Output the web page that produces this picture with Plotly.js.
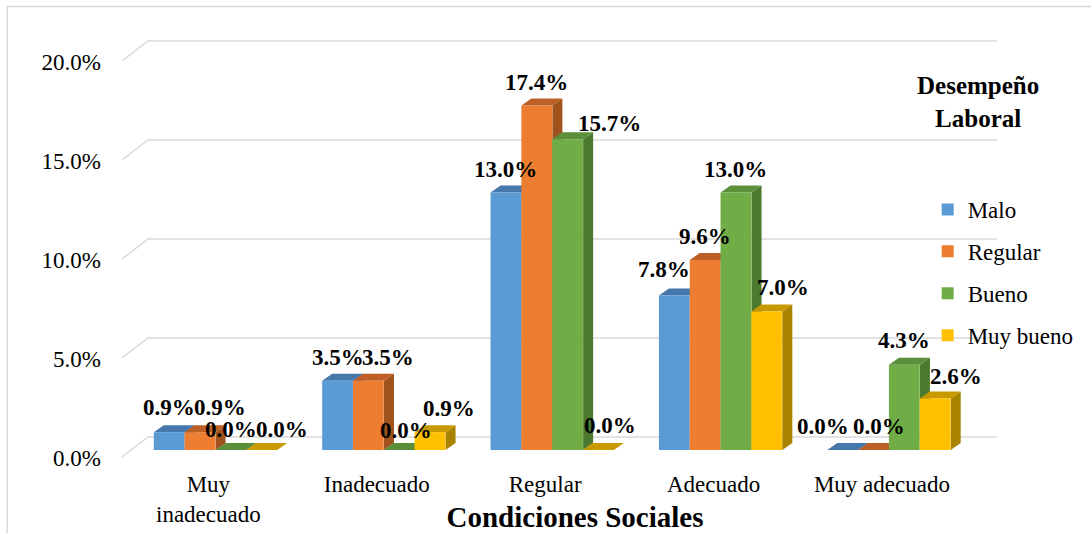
<!DOCTYPE html>
<html><head><meta charset="utf-8">
<script src="https://cdn.plot.ly/plotly-3.0.1.min.js"></script>
<style>html,body{margin:0;padding:0;background:#fff;}#chart{width:1091px;height:533px;}</style>
</head><body><div id="chart"></div>
<script>
// ---- data ----
const categories = ["Muy<br>inadecuado", "Inadecuado", "Regular", "Adecuado", "Muy adecuado"];
const seriesNames = ["Malo", "Regular", "Bueno", "Muy bueno"];
const malo = [0.9, 3.5, 13.0, 7.8, 0.0];
const regular = [0.9, 3.5, 17.4, 9.6, 0.0];
const bueno = [0.0, 0.0, 15.7, 13.0, 4.3];
const muyBueno = [0.0, 0.9, 0.0, 7.0, 2.6];
const yTickVals = [0, 5, 10, 15, 20];
const yTickText = ["0.0%", "5.0%", "10.0%", "15.0%", "20.0%"];
const xTitle = "Condiciones Sociales";
const legendTitle = "Desempeño<br>Laboral";

// ---- styles / geometry ----
const seriesValues = [malo, regular, bueno, muyBueno];
const frontColors = ["#5B9BD5", "#ED7D31", "#70AD47", "#FFC000"];
const topColors = ["#4678AC", "#BE6026", "#5B8F39", "#C99A00"];
const sideColors = ["#3E6D98", "#A0531C", "#4B7A2E", "#A88300"];
// manual label offsets (px) as placed in the original
const labelDX = [[0, 0, 0, -10, -20], [20, 20, 0, 0, 5], [0, 7, 42, 0, 0], [20, 19, 12, 16, 21]];
const labelDY = [[25, 23, 23, 26, 24], [25, 23, 23, 23, 24], [21, 20, 15.5, 23, 24], [21, 23.5, 25, 24, 22]];

const W = 1091, H = 533;
const plotL = 122, plotR = 1034, plotT = 34, plotB = 462;
const zeroPx = 450, pxPerY = 19.8;
const pxPerX = 169.5, firstCenterPx = 216;
const yLo = -(plotB - zeroPx) / pxPerY, yHi = (zeroPx - plotT) / pxPerY;
const xLo = -(firstCenterPx - plotL) / pxPerX, xHi = xLo + (plotR - plotL) / pxPerX;
const groupW = 124 / pxPerX, barW = groupW / 4, barWpx = barW * pxPerX;
const dX = 10, dY = 7;            // bar depth
const gridEnd = 997 - plotL;       // back gridline end (px from plot left)
const FONT = "Liberation Serif, Times New Roman, serif";
const px2paperX = p => (p - plotL) / (plotR - plotL);
const px2paperY = p => (plotB - p) / (plotB - plotT);

const traces = seriesValues.map((vals, s) => ({
  type: "bar",
  name: seriesNames[s],
  x: categories.map((c, j) => j),
  y: vals,
  marker: {color: frontColors[s], line: {width: 0}},
  legendgroup: "g" + s,
  hoverinfo: "skip"
}));

const shapes = [];
// frame border
shapes.push({type: "rect", xref: "paper", yref: "paper", layer: "below",
  x0: px2paperX(6.5), x1: px2paperX(1200), y0: px2paperY(600), y1: px2paperY(6.5),
  line: {color: "#D9D9D9", width: 1.5}, fillcolor: "rgba(0,0,0,0)"});
// 3D gridlines (front floor edge -> back wall)
yTickVals.forEach(v => {
  shapes.push({type: "path", layer: "below", xref: "paper", yref: "y",
    xsizemode: "pixel", ysizemode: "pixel", xanchor: 0, yanchor: v,
    path: `M0,-7 L26,13 L${gridEnd},13`,
    line: {color: "#D9D9D9", width: 1.5}});
});
// side faces
seriesValues.forEach((vals, s) => vals.forEach((v, j) => {
  const left = j - groupW / 2 + s * barW;
  const h = v * pxPerY;
  if (h > 0) shapes.push({type: "path", layer: "below", xref: "x", yref: "y",
    xsizemode: "pixel", ysizemode: "pixel", xanchor: left, yanchor: v,
    path: `M${barWpx},0 L${barWpx + dX},${dY} L${barWpx + dX},${dY - h} L${barWpx},${-h} Z`,
    fillcolor: sideColors[s], line: {width: 0}});
}));
// top faces
seriesValues.forEach((vals, s) => vals.forEach((v, j) => {
  const left = j - groupW / 2 + s * barW;
  shapes.push({type: "path", layer: "below", xref: "x", yref: "y",
    xsizemode: "pixel", ysizemode: "pixel", xanchor: left, yanchor: v,
    path: `M0,0 L${barWpx},0 L${barWpx + dX},${dY} L${dX},${dY} Z`,
    fillcolor: topColors[s], line: {width: 0}});
}));

const annotations = [];
seriesValues.forEach((vals, s) => vals.forEach((v, j) => {
  annotations.push({
    x: j - groupW / 2 + (s + 0.5) * barW, y: v, xref: "x", yref: "y",
    text: v.toFixed(1) + "%", showarrow: false,
    xanchor: "center", yanchor: "middle",
    xshift: labelDX[s][j], yshift: labelDY[s][j],
    font: {family: FONT, size: 23, color: "#000", weight: "bold"}
  });
}));
annotations.push({
  xref: "paper", yref: "paper", x: px2paperX(984), y: px2paperY(102),
  xanchor: "center", yanchor: "middle", showarrow: false,
  text: legendTitle, font: {family: FONT, size: 25, color: "#000", weight: "bold"}
});

const layout = {
  width: W, height: H,
  margin: {l: plotL, r: W - plotR, t: plotT, b: H - plotB, pad: 0},
  paper_bgcolor: "#fff", plot_bgcolor: "rgba(0,0,0,0)",
  font: {family: FONT, size: 23, color: "#000"},
  barmode: "group", bargap: 1 - groupW, bargroupgap: 0,
  showlegend: true,
  legend: {x: px2paperX(933), y: px2paperY(188), xanchor: "left", yanchor: "top",
    traceorder: "grouped", tracegroupgap: 9,
    font: {family: FONT, size: 23, color: "#000"}, bgcolor: "rgba(0,0,0,0)"},
  xaxis: {type: "linear", range: [xLo, xHi], tickvals: categories.map((c, j) => j), ticktext: categories,
    showgrid: false, zeroline: false, showline: false, ticks: "", automargin: false,
    ticklabelshift: -7, ticklabelstandoff: 6,
    tickfont: {family: FONT, size: 23, color: "#000"},
    title: {text: xTitle, font: {family: FONT, size: 29, color: "#000", weight: "bold"}, standoff: 0},
    fixedrange: true},
  yaxis: {range: [yLo, yHi], tickvals: yTickVals, ticktext: yTickText,
    showgrid: false, zeroline: false, showline: false, ticks: "", automargin: false,
    ticklabelshift: 8, ticklabelstandoff: 20,
    tickfont: {family: FONT, size: 23, color: "#000"}, fixedrange: true},
  shapes: shapes,
  annotations: annotations
};

Plotly.newPlot("chart", traces, layout, {displayModeBar: false, staticPlot: true});
</script>
</body></html>
